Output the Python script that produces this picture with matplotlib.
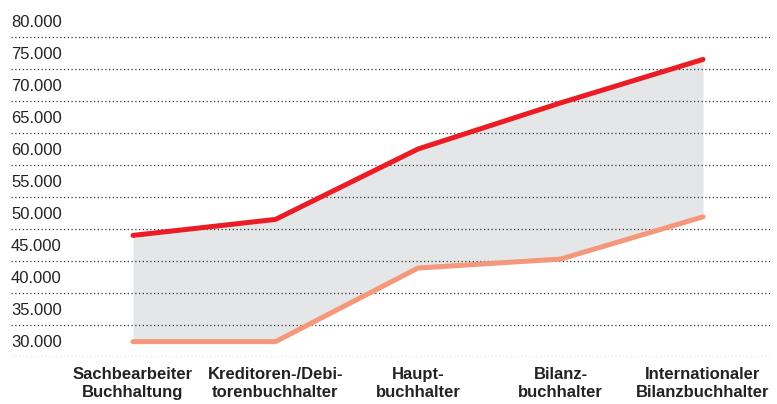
import matplotlib
matplotlib.use('Agg')
from matplotlib import pyplot as plt
import numpy as np

# Gehaltsspannen je Position (Euro)
kategorien = ['Sachbearbeiter\nBuchhaltung', 'Kreditoren-/Debi-\ntorenbuchhalter',
              'Haupt-\nbuchhalter', 'Bilanz-\nbuchhalter', 'Internationaler\nBilanzbuchhalter']
gehaltMax = [46500, 49000, 60000, 67200, 74000]
gehaltMin = [29900, 29900, 41400, 42800, 49400]
yTicks = [30000, 35000, 40000, 45000, 50000, 55000, 60000, 65000, 70000, 75000, 80000]
yLabels = ['30.000', '35.000', '40.000', '45.000', '50.000', '55.000',
           '60.000', '65.000', '70.000', '75.000', '80.000']
gitter = [27500, 32500, 37500, 42500, 47500, 52500, 57500, 62500, 67500, 72500, 77500]

plt.rcParams['font.family'] = ['Liberation Sans', 'DejaVu Sans']

W, H = 777, 404
fig = plt.figure(figsize=(W / 100, H / 100), dpi=100)
ax = fig.add_axes([11 / W, 47 / H, (770 - 11) / W, (399 - 47) / H])

x = np.arange(len(kategorien))
ax.fill_between(x, gehaltMin, gehaltMax, color='#e5e6e8', lw=0, zorder=1)
ax.plot(x, gehaltMin, color='#f4977a', lw=3.6, solid_capstyle='round', zorder=3)
ax.plot(x, gehaltMax, color='#ec1c24', lw=3.6, solid_capstyle='round', zorder=4)

ax.set_xlim(-0.856, 4.47)
ax.set_ylim(27500, 82500)

ax.set_yticks(yTicks)
ax.set_yticklabels(yLabels, ha='left', fontsize=12, color='#222222')
ax.set_yticks(gitter, minor=True)
ax.tick_params(axis='y', which='both', length=0, pad=0)
ax.grid(which='minor', axis='y', linestyle=(0, (1, 2)), color='#333333', lw=0.9, zorder=0)
ax.grid(which='major', axis='y', visible=False)

ax.set_xticks(x)
ax.set_xticklabels(kategorien, fontsize=12, fontweight='bold', color='#222222', linespacing=1.25)
ax.tick_params(axis='x', length=0, pad=7)

for s in ax.spines.values():
    s.set_visible(False)

fig.savefig('out.png', dpi=100)
